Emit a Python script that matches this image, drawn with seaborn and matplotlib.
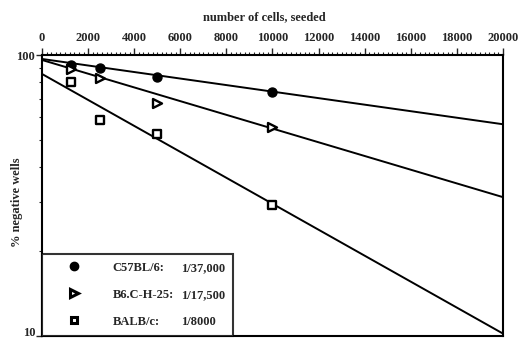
import matplotlib
matplotlib.use("Agg")
import matplotlib.pyplot as plt
from matplotlib.lines import Line2D
from matplotlib.ticker import FixedLocator, FixedFormatter, NullFormatter, MultipleLocator
import seaborn as sns
import pandas as pd

# ---- data ----
strains = ["C57BL/6:", "B6.C-H-25:", "BALB/c:"]
frequencies = ["1/37,000", "1/17,500", "1/8000"]
cells_seeded = [1250, 2500, 5000, 10000]
c57_neg = [92.1, 89.7, 83.3, 74.0]
b6c_neg = [89.2, 83.0, 67.6, 55.6]
balb_neg = [80.4, 58.7, 52.2, 29.2]
# fitted lines: value at 0 and at 20000 cells
line_x = [0, 20000]
c57_fit = [96.8, 56.7]
b6c_fit = [96.0, 31.2]
balb_fit = [85.6, 10.2]

pts = pd.DataFrame({
    "cells": cells_seeded * 3,
    "neg": c57_neg + b6c_neg + balb_neg,
    "strain": sum([[s] * len(cells_seeded) for s in strains], []),
})
fits = pd.DataFrame({
    "cells": line_x * 3,
    "neg": c57_fit + b6c_fit + balb_fit,
    "strain": sum([[s] * len(line_x) for s in strains], []),
})

sns.set_theme(style="white")
plt.rcParams["font.family"] = ["Liberation Serif", "DejaVu Serif"]
plt.rcParams["font.weight"] = "bold"

fig = plt.figure(figsize=(5.22, 3.41), dpi=100)
ax = fig.add_axes([0.0805, 0.0147, 0.883, 0.824])

sns.lineplot(data=fits, x="cells", y="neg", units="strain", estimator=None,
             color="black", linewidth=1.4, ax=ax, legend=False)

styles = {
    strains[0]: dict(marker="o", s=42, facecolor="black", edgecolor="black", linewidth=1),
    strains[1]: dict(marker=">", s=42, facecolor="white", edgecolor="black", linewidth=1.7),
    strains[2]: dict(marker="s", s=30, facecolor="white", edgecolor="black", linewidth=1.7),
}
for s in strains:
    sub = pts[pts["strain"] == s]
    sns.scatterplot(data=sub, x="cells", y="neg", ax=ax, legend=False,
                    zorder=3, **styles[s])

ax.set_yscale("log")
ax.set_ylim(10, 100)
ax.set_xlim(0, 20000)
ax.yaxis.set_major_locator(FixedLocator([10, 100]))
ax.yaxis.set_major_formatter(FixedFormatter(["10", "100"]))
ax.yaxis.set_minor_locator(FixedLocator([20, 30, 40, 50, 60, 70, 80, 90]))
ax.yaxis.set_minor_formatter(NullFormatter())

ax.xaxis.tick_top()
ax.xaxis.set_label_position("top")
ax.xaxis.set_major_locator(MultipleLocator(2000))
ax.xaxis.set_minor_locator(MultipleLocator(200))
ax.tick_params(axis="x", which="major", direction="out", length=5, width=1,
               labelsize=9, pad=3, top=True, bottom=False)
ax.tick_params(axis="x", which="minor", direction="out", length=2.5, width=0.8,
               top=True, bottom=False)
ax.tick_params(axis="y", which="major", direction="out", length=4, width=1,
               labelsize=9, pad=1, left=True)
ax.tick_params(axis="y", which="minor", direction="out", length=2, width=0.8, left=True)

ax.set_xlabel("number of cells, seeded", fontsize=9, fontweight="bold")
ax.set_ylabel("% negative wells", fontsize=9, fontweight="bold")
ax.xaxis.set_label_coords(0.483, 1.135)
ax.xaxis.label.set_va("center")
ax.yaxis.set_label_coords(-0.054, 0.477)
ax.yaxis.label.set_va("center")

for sp in ax.spines.values():
    sp.set_color("black")
    sp.set_linewidth(1.5)

h1 = Line2D([], [], marker="o", linestyle="none", markersize=6,
            markerfacecolor="black", markeredgecolor="black")
h2 = Line2D([], [], marker=">", linestyle="none", markersize=6,
            markerfacecolor="white", markeredgecolor="black", markeredgewidth=2.2)
h3 = Line2D([], [], marker="s", linestyle="none", markersize=5,
            markerfacecolor="white", markeredgecolor="black", markeredgewidth=2.2)
blank = Line2D([], [], linestyle="none")
leg = ax.legend([h1, h2, h3, blank, blank, blank],
                strains + frequencies, ncol=2, loc="lower left",
                bbox_to_anchor=(0, 0), borderaxespad=0, frameon=True,
                fancybox=False, edgecolor="black", fontsize=9,
                handlelength=3.76, handletextpad=1.24, columnspacing=-4.45,
                labelspacing=1.2, borderpad=0.65)
leg.get_frame().set_linewidth(1.5)

fig.canvas.draw()
for lbl in ax.get_yticklabels():
    if lbl.get_text() == "10":
        lbl.set_va("baseline")

fig.savefig("out.png", dpi=100)
